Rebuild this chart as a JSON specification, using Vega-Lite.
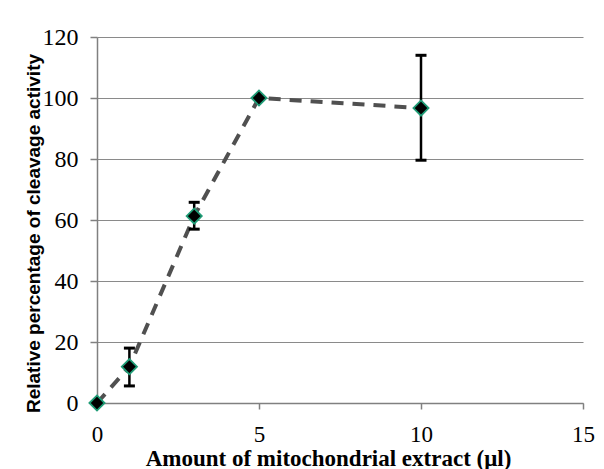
{
  "$schema": "https://vega.github.io/schema/vega-lite/v6.json",
  "width": 486,
  "height": 366,
  "autosize": {"type": "none"},
  "padding": {"left": 97, "top": 37, "right": 21, "bottom": 66},
  "background": "white",
  "config": {
    "view": {"stroke": null},
    "axisX": {
      "grid": false,
      "domainColor": "#808080",
      "domainWidth": 1.5,
      "tickColor": "#808080",
      "tickWidth": 1.5,
      "tickSize": 6,
      "labelFont": "Liberation Serif",
      "labelFontSize": 23,
      "labelColor": "black",
      "labelPadding": 14,
      "labelFlush": false,
      "labelOverlap": false,
      "titleFont": "Liberation Serif",
      "titleFontWeight": "bold",
      "titleFontSize": 23,
      "titleColor": "black",
      "titleX": 231,
      "titleY": 62,
      "titleAlign": "center",
      "titleBaseline": "alphabetic"
    },
    "axisY": {
      "grid": true,
      "gridColor": "#8a8a8a",
      "gridWidth": 1.2,
      "domainColor": "#808080",
      "domainWidth": 1.5,
      "tickColor": "#808080",
      "tickWidth": 1.5,
      "tickSize": 7,
      "labelFont": "Liberation Serif",
      "labelFontSize": 24,
      "labelColor": "black",
      "labelPadding": 12,
      "labelOverlap": false,
      "labelFlush": false,
      "titleFont": "Liberation Sans",
      "titleFontWeight": "bold",
      "titleFontSize": 19,
      "titleColor": "black",
      "titleAngle": -90,
      "titleX": -64,
      "titleY": 196,
      "titleAlign": "center",
      "titleBaseline": "middle"
    }
  },
  "data": {
    "values": [
      {"amount": 0, "activity": 0, "lo": null, "hi": null},
      {"amount": 1, "activity": 11.9, "lo": 5.6, "hi": 18},
      {"amount": 3, "activity": 61.3, "lo": 57, "hi": 65.8},
      {"amount": 5, "activity": 100, "lo": null, "hi": null},
      {"amount": 10, "activity": 96.7, "lo": 79.6, "hi": 114}
    ]
  },
  "encoding": {
    "x": {
      "field": "amount",
      "type": "quantitative",
      "scale": {"domain": [0, 15], "nice": false, "zero": false},
      "axis": {"values": [0, 5, 10, 15], "title": "Amount of mitochondrial extract (μl)"}
    },
    "y": {
      "field": "activity",
      "type": "quantitative",
      "scale": {"domain": [0, 120], "nice": false},
      "axis": {"values": [0, 20, 40, 60, 80, 100, 120], "title": "Relative percentage of cleavage activity"}
    }
  },
  "layer": [
    {
      "mark": {"type": "line", "color": "#505050", "strokeWidth": 4, "strokeDash": [12, 9]}
    },
    {
      "mark": {"type": "rule", "color": "black", "strokeWidth": 2.5},
      "encoding": {
        "y": {"field": "lo", "type": "quantitative", "axis": {"values": [0, 20, 40, 60, 80, 100, 120], "title": "Relative percentage of cleavage activity"}},
        "y2": {"field": "hi"}
      }
    },
    {
      "mark": {"type": "tick", "orient": "horizontal", "color": "black", "size": 11, "thickness": 3, "opacity": 1},
      "encoding": {
        "y": {"field": "lo", "type": "quantitative", "axis": {"values": [0, 20, 40, 60, 80, 100, 120], "title": "Relative percentage of cleavage activity"}}
      }
    },
    {
      "mark": {"type": "tick", "orient": "horizontal", "color": "black", "size": 11, "thickness": 3, "opacity": 1},
      "encoding": {
        "y": {"field": "hi", "type": "quantitative", "axis": {"values": [0, 20, 40, 60, 80, 100, 120], "title": "Relative percentage of cleavage activity"}}
      }
    },
    {
      "mark": {"type": "point", "shape": "diamond", "filled": true, "color": "black", "stroke": "#1f9c76", "strokeWidth": 1.8, "size": 230, "opacity": 1}
    }
  ]
}
